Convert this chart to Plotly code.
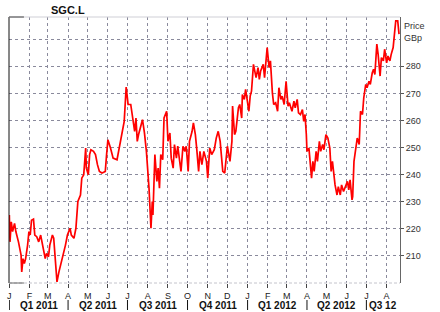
import pandas as pd
import plotly.graph_objects as go

# ---------------- data ----------------
start_date = "2011-01-01"
day_offsets = [0,1,3,5,8,10,14,18,19,21,23,25,28,30,32,34,37,39,42,45,48,51,55,57,60,62,66,68,71,73,76,80,83,86,89,93,95,99,102,105,109,111,114,116,117,118,121,123,125,129,132,135,138,142,147,149,151,155,159,165,167,170,172,176,179,182,186,189,192,194,196,198,202,204,207,210,214,217,219,220,223,226,228,230,232,235,237,241,243,246,248,251,253,256,258,263,266,269,271,274,276,280,282,285,287,290,292,295,298,302,304,307,310,314,317,320,323,327,330,334,338,341,342,345,347,351,353,356,357,360,362,365,367,369,371,374,378,381,383,385,389,391,393,395,398,400,403,405,408,411,413,416,418,421,424,427,429,433,436,438,441,443,446,449,451,453,455,456,459,461,463,465,467,470,472,475,477,480,482,485,488,491,493,495,499,502,504,507,509,512,514,518,520,522,525,526,528,531,533,536,538,541,543,546,548,551,553,556,558,560,563,565,568,570,573,575,578,580,583,585,588,590,592,595,597]
prices = [225.1,215.2,222.6,219.0,222.0,219.0,215.2,210.3,204.1,209.0,207.2,209.0,214.0,219.0,217.7,223.2,223.6,217.7,217.1,215.2,217.7,214.0,209.0,210.9,209.7,214.0,217.7,216.5,206.6,200.4,204.1,207.8,210.3,214.0,217.7,220.2,217.7,216.5,220.2,230.1,232.5,238.7,240.0,246.1,249.8,242.4,240.0,247.4,249.2,248.6,247.4,243.7,241.2,240.6,241.2,247.4,252.9,249.8,246.1,245.5,248.0,251.1,254.8,259.7,272.3,265.9,265.9,260.9,256.0,260.9,252.3,254.8,258.5,260.3,255.4,248.6,235.0,220.2,230.1,225.1,247.4,237.5,242.4,235.0,247.4,245.5,260.9,263.4,252.3,255.4,246.1,242.4,251.1,246.1,250.5,241.2,250.5,248.6,250.5,241.2,252.3,256.0,259.1,254.8,249.8,241.2,248.6,243.7,248.6,244.9,238.7,249.8,247.4,249.2,253.5,256.0,252.3,241.2,240.6,250.5,244.9,252.3,265.3,254.8,256.0,264.7,265.9,260.9,269.6,267.8,271.5,265.9,263.4,269.0,270.8,280.7,275.8,279.5,275.2,278.3,280.7,275.8,281.3,286.9,279.5,282.0,270.2,265.9,266.5,263.4,272.1,267.8,269.0,265.9,274.5,265.3,266.5,263.4,267.1,264.7,267.8,262.8,262.2,264.0,259.7,262.2,254.8,248.6,249.8,244.9,238.7,244.9,241.2,248.6,244.9,252.3,248.6,251.1,249.2,254.8,253.5,249.8,241.2,244.9,236.2,232.5,235.6,232.5,236.2,233.8,235.0,237.5,234.4,238.1,230.7,231.9,244.9,249.8,253.5,251.1,263.4,262.2,268.4,273.3,272.1,274.5,273.3,277.6,278.9,277.0,288.2,284.4,276.4,283.2,282.0,286.3,281.3,283.8,282.0,284.4,286.9,291.9,296.8,296.8,291.9]

month_ticks = ["2011-01-01","2011-02-01","2011-03-01","2011-04-01","2011-05-01","2011-06-01",
               "2011-07-01","2011-08-01","2011-09-01","2011-10-01","2011-11-01","2011-12-01",
               "2012-01-01","2012-02-01","2012-03-01","2012-04-01","2012-05-01","2012-06-01",
               "2012-07-01","2012-08-01"]
month_letters = ["J","F","M","A","M","J","J","A","S","O","N","D","J","F","M","A","M","J","J","A"]

quarter_starts = ["2011-01-01","2011-04-01","2011-07-01","2011-10-01","2012-01-01","2012-04-01","2012-07-01"]
quarter_labels = ["Q1 2011","Q2 2011","Q3 2011","Q4 2011","Q1 2012","Q2 2012","Q3 12"]

price_ticks = [210, 220, 230, 240, 250, 260, 270, 280]
price_tick_text = ["210", "220", "230", "240", "250", "260", "270", "280"]
extra_grid = [290]

x_range = ["2010-12-31 12:00", "2012-08-21 12:00"]
y_range = [200, 298.2]

title_text = "SGC.L"
unit_text = ["Price", "GBp"]

# ---------------- figure ----------------
FONT = "Liberation Sans, Arial, sans-serif"
GRID = "#8a8a9c"

dates = pd.Timestamp(start_date) + pd.to_timedelta(day_offsets, unit="D")

fig = go.Figure()
fig.add_trace(go.Scatter(x=dates, y=prices, mode="lines",
                         line=dict(color="#ff0000", width=1.7),
                         hoverinfo="skip", showlegend=False))

W, H = 440, 312
ML, MR, MT, MB = 7, 40, 17, 29

fig.update_layout(
    width=W, height=H,
    margin=dict(l=ML, r=MR, t=MT, b=MB, pad=0),
    paper_bgcolor="white", plot_bgcolor="white",
    font=dict(family=FONT, size=9, color="#333333"),
    showlegend=False,
    xaxis=dict(
        type="date", range=x_range,
        tickmode="array", tickvals=month_ticks, ticktext=month_letters,
        ticks="outside", ticklen=4, tickcolor="#444444", tickwidth=1,
        tickfont=dict(size=9, color="#222222"),
        showgrid=True, gridcolor=GRID, gridwidth=1, griddash="3px,3px",
        showline=False, zeroline=False, fixedrange=True,
    ),
    yaxis=dict(
        range=y_range, side="right",
        tickmode="array", tickvals=price_ticks, ticktext=price_tick_text,
        ticks="outside", ticklen=3, tickcolor="#555555", tickwidth=1,
        tickfont=dict(size=9, color="#333333"),
        showgrid=True, gridcolor=GRID, gridwidth=1, griddash="3px,3px",
        minor=dict(tickmode="array", tickvals=extra_grid, showgrid=True,
                   gridcolor=GRID, gridwidth=1, griddash="3px,3px", ticks=""),
        showline=True, linecolor="#666666", linewidth=1, mirror=False,
        zeroline=False, fixedrange=True,
    ),
)

plot_w = W - ML - MR
plot_h = H - MT - MB
corner = 15 / plot_w

shapes = [
    # frame
    dict(type="line", xref="paper", yref="paper", x0=0, x1=0, y0=0, y1=1,
         line=dict(color="#111111", width=1)),
    dict(type="line", xref="paper", yref="paper", x0=0, x1=1, y0=1, y1=1,
         line=dict(color="#cfcfd6", width=1)),
    dict(type="line", xref="paper", yref="paper", x0=0, x1=corner, y0=1, y1=1,
         line=dict(color="#444444", width=1)),
    dict(type="line", xref="paper", yref="paper", x0=0, x1=1, y0=0, y1=0,
         line=dict(color="#c4c4cc", width=1, dash="3px,2px")),
    dict(type="line", xref="paper", yref="paper", x0=0, x1=corner, y0=0, y1=0,
         line=dict(color="#666666", width=1)),
]

annotations = []
end_ts = pd.Timestamp(x_range[1])
qs = [pd.Timestamp(q) for q in quarter_starts]
for i, (q, lab) in enumerate(zip(qs, quarter_labels)):
    nxt = qs[i + 1] if i + 1 < len(qs) else end_ts
    nxt = min(nxt, end_ts)
    mid = q + (nxt - q) / 2
    shapes.append(dict(type="line", xref="x", yref="paper", x0=q, x1=q,
                       y0=-(300 - (H - MB)) / plot_h if False else -17 / plot_h,
                       y1=-27 / plot_h,
                       line=dict(color="#111111", width=1)))
    annotations.append(dict(xref="x", yref="paper", x=mid, y=-22 / plot_h,
                            text="<b>%s</b>" % lab, showarrow=False,
                            xanchor="center", yanchor="middle",
                            font=dict(size=10, color="#111111", family=FONT)))

annotations.append(dict(xref="paper", yref="paper", x=(66 - ML) / plot_w,
                        y=1 + (MT - 10) / plot_h, text="<b>%s</b>" % title_text,
                        showarrow=False, xanchor="center", yanchor="middle",
                        font=dict(size=11, color="#111111", family=FONT)))
annotations.append(dict(xref="paper", yref="paper", x=1, xshift=2,
                        y=1 - (26 - MT) / plot_h, text=unit_text[0],
                        showarrow=False, xanchor="left", yanchor="middle",
                        font=dict(size=9, color="#333333", family=FONT)))
annotations.append(dict(xref="paper", yref="paper", x=1, xshift=2,
                        y=1 - (38 - MT) / plot_h, text=unit_text[1],
                        showarrow=False, xanchor="left", yanchor="middle",
                        font=dict(size=9, color="#333333", family=FONT)))

fig.update_layout(shapes=shapes, annotations=annotations)

fig.write_html("out.html", config=dict(displayModeBar=False))
